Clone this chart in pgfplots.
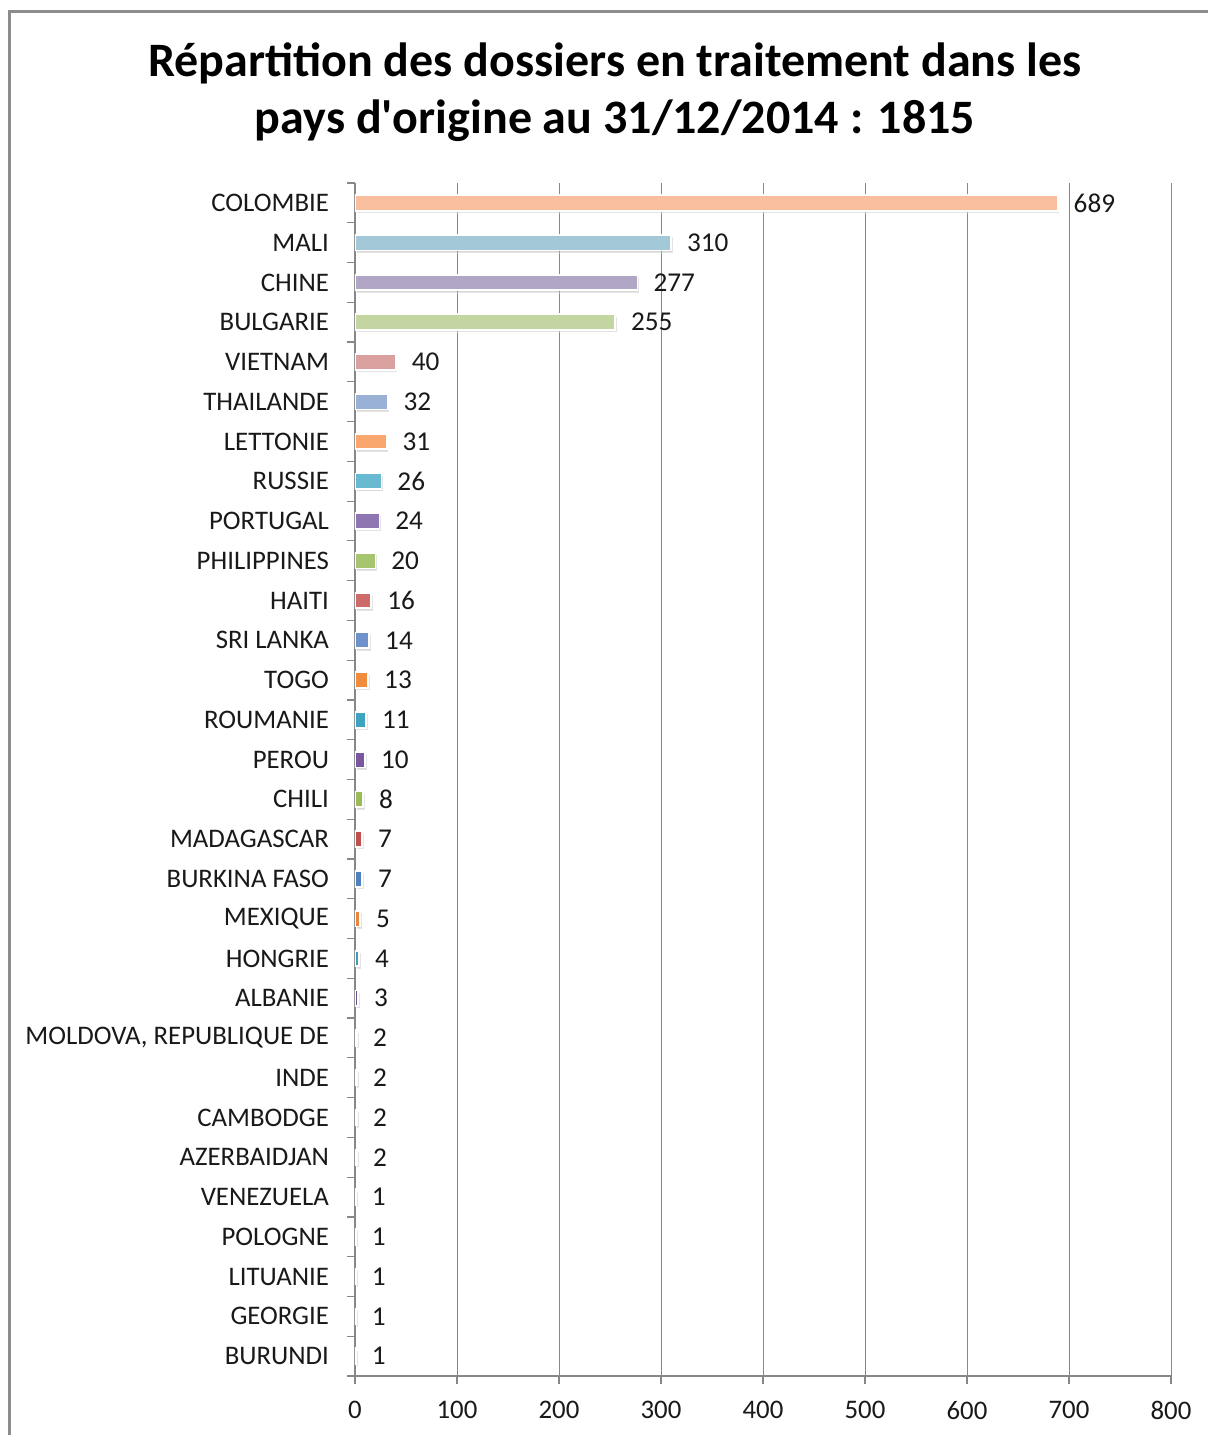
\documentclass[border=0pt]{standalone}
\usepackage{fontspec}
\setmainfont{Carlito}
\usepackage{pgfplots}
\pgfplotsset{compat=1.18}
\usetikzlibrary{shadows}

\definecolor{axgray}{HTML}{878787}
\definecolor{framegray}{HTML}{8C8C8C}
\definecolor{c29}{HTML}{F9BE9E}
\definecolor{c28}{HTML}{A3C9D9}
\definecolor{c27}{HTML}{B2A6C6}
\definecolor{c26}{HTML}{C3D6A1}
\definecolor{c25}{HTML}{D9A09F}
\definecolor{c24}{HTML}{9AB1D6}
\definecolor{c23}{HTML}{F9A76F}
\definecolor{c22}{HTML}{67BAD0}
\definecolor{c21}{HTML}{8E77B1}
\definecolor{c20}{HTML}{A7C46E}
\definecolor{c19}{HTML}{CC6B69}
\definecolor{c18}{HTML}{6F92CD}
\definecolor{c17}{HTML}{EF8C3E}
\definecolor{c16}{HTML}{3DA3BF}
\definecolor{c15}{HTML}{7A58A0}
\definecolor{c14}{HTML}{9BBB59}
\definecolor{c13}{HTML}{C0504D}
\definecolor{c12}{HTML}{4F81BD}
\definecolor{c11}{HTML}{E8873F}
\definecolor{c10}{HTML}{3F9DB6}
\definecolor{c09}{HTML}{6B5389}
\definecolor{c08}{HTML}{84A048}
\definecolor{c07}{HTML}{A24340}
\definecolor{c06}{HTML}{426DA0}
\definecolor{c05}{HTML}{D27E3A}
\definecolor{c04}{HTML}{38869B}
\definecolor{c03}{HTML}{5A4677}
\definecolor{c02}{HTML}{718A3D}
\definecolor{c01}{HTML}{8A3836}
\definecolor{c00}{HTML}{385D88}

\begin{document}
\begin{tikzpicture}[x=1pt,y=1pt]
\useasboundingbox (0,0) rectangle (604,717.5);
\draw[line width=1.5pt, framegray] (4.5,-2) -- (4.5,711.5) -- (606,711.5);
\node[font=\bfseries\fontsize{24}{28.5}\selectfont, align=center] at (307.5,671.5)
  {Répartition des dossiers en traitement dans les\\pays d\textquotesingle origine au 31/12/2014 : 1815};

\begin{axis}[
  at={(177.5pt,29.5pt)}, anchor=south west,
  scale only axis, width=408pt, height=596.5pt,
  xbar,
  xmin=0, xmax=800, ymin=-0.5, ymax=29.5,
  axis x line*=bottom, axis y line*=left,
  axis line style={draw=axgray, line width=0.6pt, -},
  xmajorgrids, grid style={draw=axgray, line width=0.5pt},
  xtick={0,100,...,800},
  ytick={0,...,29},
  yticklabels={BURUNDI, GEORGIE, LITUANIE, POLOGNE, VENEZUELA, AZERBAIDJAN,
    CAMBODGE, INDE, {MOLDOVA, REPUBLIQUE DE}, ALBANIE, HONGRIE, MEXIQUE,
    BURKINA FASO, MADAGASCAR, CHILI, PEROU, ROUMANIE, TOGO, SRI LANKA, HAITI,
    PHILIPPINES, PORTUGAL, RUSSIE, LETTONIE, THAILANDE, VIETNAM, BULGARIE,
    CHINE, MALI, COLOMBIE},
  minor ytick={-0.5,0.5,...,29.5},
  tick align=outside,
  major tick length=4pt, minor tick length=4pt,
  tick style={draw=axgray, line width=0.6pt},
  major y tick style={draw=none},
  tick label style={font=\fontsize{13.4}{15}\selectfont, color=black!90},
  yticklabel style={xshift=-5.5pt},
  xticklabel style={yshift=-5pt},
  /pgf/number format/assume math mode=true,
  every axis plot/.append style={bar shift=0pt, bar width=7.8pt, draw=white, line width=0.9pt,
    drop shadow={shadow xshift=0.8pt, shadow yshift=-1.2pt, opacity=0.3}},
  nodes near coords,
  every node near coord/.append style={font=\fontsize{13.6}{15}\selectfont, color=black!90, xshift=4.2pt},
]
\addplot[fill=c29] coordinates {(689,29)};
\addplot[fill=c28] coordinates {(310,28)};
\addplot[fill=c27] coordinates {(277,27)};
\addplot[fill=c26] coordinates {(255,26)};
\addplot[fill=c25] coordinates {(40,25)};
\addplot[fill=c24] coordinates {(32,24)};
\addplot[fill=c23] coordinates {(31,23)};
\addplot[fill=c22] coordinates {(26,22)};
\addplot[fill=c21] coordinates {(24,21)};
\addplot[fill=c20] coordinates {(20,20)};
\addplot[fill=c19] coordinates {(16,19)};
\addplot[fill=c18] coordinates {(14,18)};
\addplot[fill=c17] coordinates {(13,17)};
\addplot[fill=c16] coordinates {(11,16)};
\addplot[fill=c15] coordinates {(10,15)};
\addplot[fill=c14] coordinates {(8,14)};
\addplot[fill=c13] coordinates {(7,13)};
\addplot[fill=c12] coordinates {(7,12)};
\addplot[fill=c11] coordinates {(5,11)};
\addplot[fill=c10] coordinates {(4,10)};
\addplot[fill=c09] coordinates {(3,9)};
\addplot[fill=c08] coordinates {(2,8)};
\addplot[fill=c07] coordinates {(2,7)};
\addplot[fill=c06] coordinates {(2,6)};
\addplot[fill=c05] coordinates {(2,5)};
\addplot[fill=c04] coordinates {(1,4)};
\addplot[fill=c03] coordinates {(1,3)};
\addplot[fill=c02] coordinates {(1,2)};
\addplot[fill=c01] coordinates {(1,1)};
\addplot[fill=c00] coordinates {(1,0)};
\end{axis}
\end{tikzpicture}
\end{document}
